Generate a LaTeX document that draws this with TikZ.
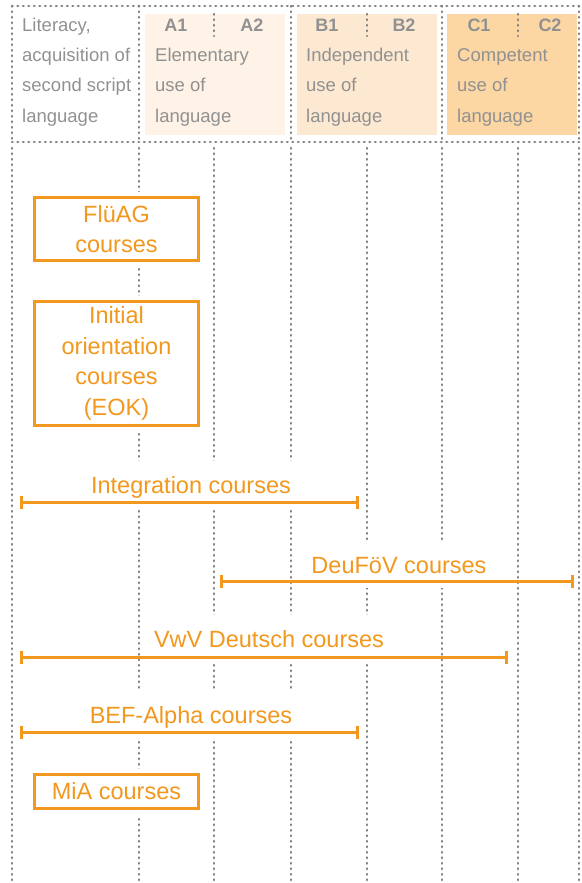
\documentclass[tikz,border=0pt]{standalone}
\usepackage{fontspec}
\setmainfont{Liberation Sans}
\usetikzlibrary{arrows.meta}
\definecolor{orng}{RGB}{243,152,30}
\definecolor{dotgray}{RGB}{128,128,128}
\definecolor{txtgray}{RGB}{145,145,145}
\definecolor{fillA}{RGB}{254,243,230}
\definecolor{fillB}{RGB}{253,233,209}
\definecolor{fillC}{RGB}{252,214,163}
\newcommand{\lblfont}{\fontsize{23.5}{30.5}\selectfont}
\newcommand{\hdrfont}{\fontsize{18.5}{30}\selectfont}
\newcommand{\lvlfont}{\fontsize{18}{20}\selectfont\bfseries}
\tikzset{
	dots/.style={draw=dotgray, line width=2.6pt, line cap=round, dash pattern=on 0.6pt off 4.9pt},
	hdr/.style={font=\hdrfont, text=txtgray, inner sep=0pt, anchor=base west},
	lvl/.style={font=\lvlfont, text=txtgray, inner sep=0pt, anchor=base},
	coursebox/.style={draw=orng, line width=3pt, fill=white, preaction={draw=white, line width=12pt}, font=\lblfont, text=orng, align=center, inner sep=0pt, minimum width=164pt},
	barlabel/.style={font=\lblfont, text=orng, fill=white, inner xsep=8pt, inner ysep=0pt, text height=32pt, text depth=15pt, anchor=base},
	bar/.style={draw=orng, line width=3pt, {Bar[width=13pt]}-{Bar[width=13pt]}}
}
\begin{document}
\begin{tikzpicture}[x=1pt, y=-1pt]
	\useasboundingbox (0,0) rectangle (581,883);
	% level cells
	\fill[fillA] (145,14) rectangle (285,135);
	\fill[fillB] (297,14) rectangle (437,135);
	\fill[fillC] (447,14) rectangle (577,135);
	% header frame
	\draw[dots] (12,6) -- (579,6);
	\draw[dots] (12,142) -- (579,142);
	\draw[dots] (12,6) -- (12,142);
	\draw[dots] (139,6) -- (139,142);
	\draw[dots] (291,6) -- (291,142);
	\draw[dots] (442,6) -- (442,142);
	\draw[dots] (579,6) -- (579,142);
	\draw[dots] (214,14) -- (214,36);
	\draw[dots] (367,14) -- (367,36);
	\draw[dots] (518,14) -- (518,36);
	% grid
	\draw[dots] (12,148) -- (12,883);
	\draw[dots] (139,148) -- (139,883);
	\draw[dots] (214,148) -- (214,883);
	\draw[dots] (291,148) -- (291,883);
	\draw[dots] (367,148) -- (367,883);
	\draw[dots] (442,148) -- (442,883);
	\draw[dots] (518,148) -- (518,883);
	\draw[dots] (579,148) -- (579,883);
	% header texts
	\node[hdr] (lit1) at (22,32) {Literacy,};
	\node[hdr] (lit2) at (22,62) {acquisition of};
	\node[hdr] (lit3) at (22,92) {second script};
	\node[hdr] (lit4) at (22,122) {language};
	\node[lvl] (a1) at (176,32) {A1};
	\node[lvl] (a2) at (252,32) {A2};
	\node[hdr] (elem1) at (155,62) {Elementary};
	\node[hdr] (elem2) at (155,92) {use of};
	\node[hdr] (elem3) at (155,122) {language};
	\node[lvl] (b1) at (327,32) {B1};
	\node[lvl] (b2) at (404,32) {B2};
	\node[hdr] (indep1) at (306,62) {Independent};
	\node[hdr] (indep2) at (306,92) {use of};
	\node[hdr] (indep3) at (306,122) {language};
	\node[lvl] (c1) at (479,32) {C1};
	\node[lvl] (c2) at (550,32) {C2};
	\node[hdr] (comp1) at (457,62) {Competent};
	\node[hdr] (comp2) at (457,92) {use of};
	\node[hdr] (comp3) at (457,122) {language};
	% course boxes
	\node[coursebox, minimum height=63pt] (fluag) at (116.5,229) {FlüAG\\courses};
	\node[coursebox, minimum height=124pt] (eok) at (116.5,363.5) {Initial\\orientation\\courses\\(EOK)};
	\node[coursebox, minimum height=34pt] (mia) at (116.5,791.5) {MiA courses};
	% course ranges
	\node[barlabel] (integ) at (191,493) {Integration courses};
	\coordinate (integL) at (20,502);
	\coordinate (integR) at (359,502);
	\draw[bar] (integL) -- (integR);
	\node[barlabel] (deufoev) at (399,573) {DeuFöV courses};
	\coordinate (deufoevL) at (220,581);
	\coordinate (deufoevR) at (574,581);
	\draw[bar] (deufoevL) -- (deufoevR);
	\node[barlabel] (vwv) at (269,647) {VwV Deutsch courses};
	\coordinate (vwvL) at (20,657);
	\coordinate (vwvR) at (508,657);
	\draw[bar] (vwvL) -- (vwvR);
	\node[barlabel] (befalpha) at (191,723) {BEF-Alpha courses};
	\coordinate (befalphaL) at (20,732);
	\coordinate (befalphaR) at (359,732);
	\draw[bar] (befalphaL) -- (befalphaR);
\end{tikzpicture}
\end{document}
